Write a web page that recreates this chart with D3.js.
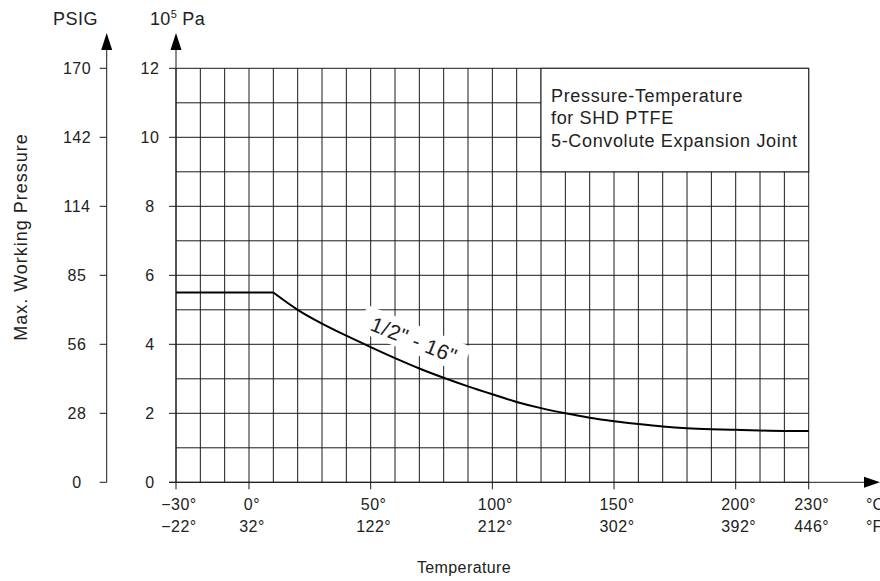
<!DOCTYPE html>
<html><head><meta charset="utf-8">
<script src="https://cdn.jsdelivr.net/npm/d3@7"></script>
<style>
html,body{margin:0;padding:0;background:#fff;}
svg text{font-family:"Liberation Sans",Arial,Helvetica,sans-serif;fill:#222;}
</style></head>
<body>
<svg id="chart" width="880" height="581"></svg>
<script>
// ---- data ----
const curveTemps = [-30, 0, 10, 20, 30, 40, 50, 60, 70, 80, 90, 100, 110, 120, 130, 140, 150, 160, 170, 180, 190, 200, 210, 220, 230];
const curveBar   = [5.5, 5.5, 5.5, 5.0, 4.6, 4.25, 3.92, 3.6, 3.3, 3.03, 2.78, 2.55, 2.33, 2.15, 2.0, 1.87, 1.77, 1.69, 1.62, 1.57, 1.54, 1.52, 1.5, 1.49, 1.49];
const paTicks    = [0, 2, 4, 6, 8, 10, 12];
const psigLabels = ["0", "28", "56", "85", "114", "142", "170"];
const xTicksC    = [-30, 0, 50, 100, 150, 200, 230];
const xLabelsC   = ["\u221230\u00b0", "0\u00b0", "50\u00b0", "100\u00b0", "150\u00b0", "200\u00b0", "230\u00b0"];
const xLabelsF   = ["\u221222\u00b0", "32\u00b0", "122\u00b0", "212\u00b0", "302\u00b0", "392\u00b0", "446\u00b0"];
const legendLines = ["Pressure-Temperature", "for SHD PTFE", "5-Convolute Expansion Joint"];
const curveLabel = "1/2\" - 16\"";

// ---- scales ----
const x = d3.scaleLinear().domain([-30, 230]).range([176, 808.7]);
const y = d3.scaleLinear().domain([0, 12]).range([482.3, 68.3]);
const svg = d3.select("#chart");
const ink = "#1a1a1a";

// grid
const g = svg.append("g");
g.selectAll("line.v").data(d3.range(-30, 231, 10)).join("line")
  .attr("x1", d => x(d)).attr("x2", d => x(d)).attr("y1", y(0)).attr("y2", y(12))
  .attr("stroke", ink).attr("stroke-width", 1);
g.selectAll("line.h").data(d3.range(0, 13, 1)).join("line")
  .attr("x1", x(-30)).attr("x2", x(230)).attr("y1", d => y(d)).attr("y2", d => y(d))
  .attr("stroke", ink).attr("stroke-width", 1);

// legend box
svg.append("rect").attr("x", x(120)).attr("y", y(12)).attr("width", x(230) - x(120)).attr("height", y(9) - y(12))
  .attr("fill", "#fff").attr("stroke", ink).attr("stroke-width", 1);
svg.append("g").selectAll("text").data(legendLines).join("text")
  .attr("x", x(120) + 10).attr("y", (d, i) => 102 + i * 22.3)
  .attr("font-size", 18).style("letter-spacing", "0.65px").text(d => d);

// arrowheads helper
function arrowUp(cx, tipY) {
  svg.append("path").attr("d", `M${cx},${tipY} L${cx - 5.5},${tipY + 17} L${cx + 5.5},${tipY + 17} Z`).attr("fill", "#000");
}
// Pa axis
svg.append("line").attr("x1", x(-30)).attr("x2", x(-30)).attr("y1", y(0)).attr("y2", 48).attr("stroke", ink);
arrowUp(x(-30), 33);
svg.append("g").selectAll("line").data(paTicks).join("line")
  .attr("x1", x(-30) - 7).attr("x2", x(-30)).attr("y1", d => y(d)).attr("y2", d => y(d)).attr("stroke", ink);
svg.append("g").selectAll("text").data(paTicks).join("text")
  .attr("x", 150).attr("y", d => y(d)).attr("dy", "0.36em").attr("text-anchor", "middle")
  .attr("font-size", 16).style("letter-spacing", "0.5px").text(d => d);

// PSIG axis
const psigX = 106.7;
svg.append("line").attr("x1", psigX).attr("x2", psigX).attr("y1", y(0)).attr("y2", 48).attr("stroke", ink);
arrowUp(psigX, 33);
svg.append("g").selectAll("line").data(paTicks).join("line")
  .attr("x1", psigX - 7).attr("x2", psigX).attr("y1", d => y(d)).attr("y2", d => y(d)).attr("stroke", ink);
svg.append("g").selectAll("text").data(paTicks).join("text")
  .attr("x", 77).attr("y", d => y(d)).attr("dy", "0.36em").attr("text-anchor", "middle")
  .attr("font-size", 16).style("letter-spacing", "0.5px").text((d, i) => psigLabels[i]);

// unit titles
svg.append("text").attr("x", 53).attr("y", 25).attr("font-size", 18).style("letter-spacing", "0.5px").text("PSIG");
const paT = svg.append("text").attr("x", 150).attr("y", 25).attr("font-size", 18).style("letter-spacing", "0.3px");
paT.append("tspan").text("10");
paT.append("tspan").attr("font-size", 11).attr("dy", -7).text("5");
paT.append("tspan").attr("dy", 7).text(" Pa");

// x axis
svg.append("line").attr("x1", x(-30) - 7).attr("x2", 866).attr("y1", y(0)).attr("y2", y(0)).attr("stroke", ink);
svg.append("path").attr("d", `M880,${y(0)} L864,${y(0) - 5.5} L864,${y(0) + 5.5} Z`).attr("fill", "#000");
svg.append("g").selectAll("line").data(xTicksC).join("line")
  .attr("x1", d => x(d)).attr("x2", d => x(d)).attr("y1", y(0)).attr("y2", y(0) + 7).attr("stroke", ink);
svg.append("g").selectAll("text").data(xTicksC).join("text")
  .attr("x", d => x(d) + 3).attr("y", 510).attr("text-anchor", "middle").attr("font-size", 16)
  .style("letter-spacing", "0.5px").text((d, i) => xLabelsC[i]);
svg.append("g").selectAll("text").data(xTicksC).join("text")
  .attr("x", d => x(d) + 3).attr("y", 532).attr("text-anchor", "middle").attr("font-size", 16)
  .style("letter-spacing", "0.5px").text((d, i) => xLabelsF[i]);
svg.append("text").attr("x", 866).attr("y", 510).attr("font-size", 16).text("\u00b0C");
svg.append("text").attr("x", 866).attr("y", 532).attr("font-size", 16).text("\u00b0F");

// axis titles
svg.append("text").attr("x", 464).attr("y", 573).attr("text-anchor", "middle").attr("font-size", 16)
  .style("letter-spacing", "0.4px").text("Temperature");
svg.append("text").attr("transform", "translate(27,237) rotate(-90)").attr("text-anchor", "middle")
  .attr("font-size", 18).style("letter-spacing", "1px").text("Max. Working Pressure");

// curve label with white background
const lbl = svg.append("g").attr("transform", `translate(414,340) rotate(22)`);
lbl.append("rect").attr("x", -56).attr("y", -15).attr("width", 112).attr("height", 28).attr("fill", "#fff");
lbl.append("text").attr("text-anchor", "middle").attr("dy", "0.35em").attr("font-size", 21)
  .style("letter-spacing", "0.5px").text(curveLabel);

// curve
const pts = curveTemps.map((t, i) => [t, curveBar[i]]);
const flat = pts.filter(p => p[0] <= 10);
const down = pts.filter(p => p[0] >= 10);
svg.append("path").attr("d", d3.line().x(p => x(p[0])).y(p => y(p[1]))(flat))
  .attr("fill", "none").attr("stroke", "#000").attr("stroke-width", 2);
svg.append("path").attr("d", d3.line().curve(d3.curveMonotoneX).x(p => x(p[0])).y(p => y(p[1]))(down))
  .attr("fill", "none").attr("stroke", "#000").attr("stroke-width", 2);
</script>
</body></html>
